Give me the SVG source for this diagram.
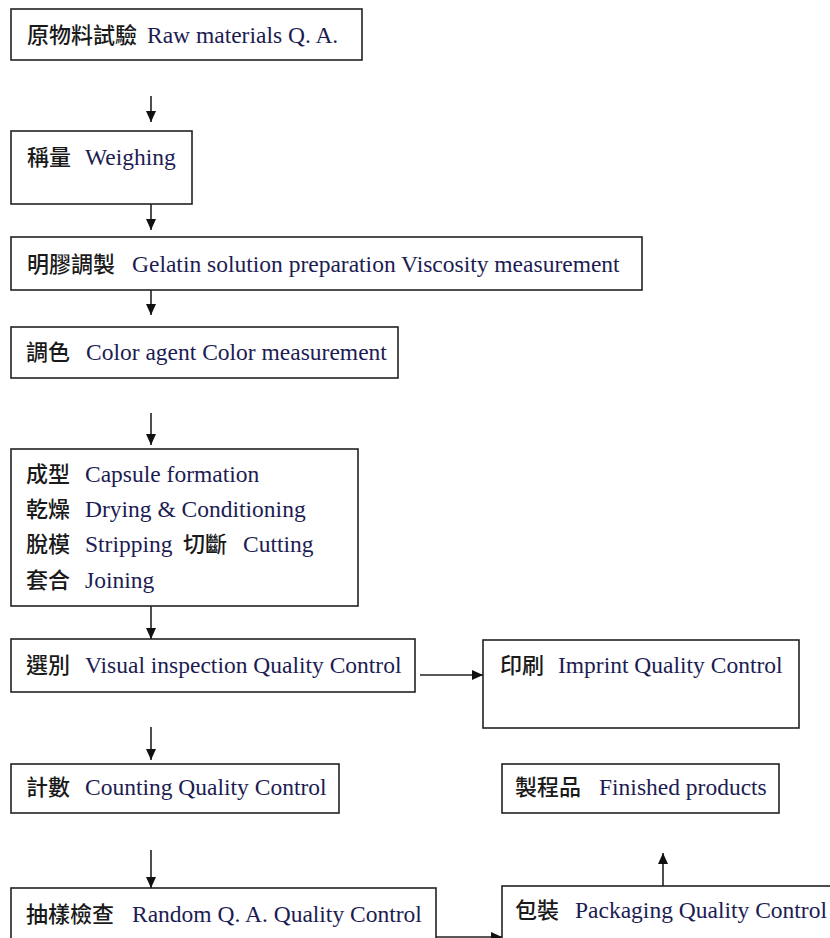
<svg xmlns="http://www.w3.org/2000/svg" width="830" height="938" viewBox="0 0 830 938">
<defs>
<marker id="ah" viewBox="0 0 10 10" refX="10" refY="5" markerWidth="11" markerHeight="10" markerUnits="userSpaceOnUse" orient="auto" preserveAspectRatio="none">
<path d="M0,0 L10,5 L0,10 z" fill="#111"/>
</marker>
<style>
.box{fill:#fff;stroke:#222;stroke-width:1.6}
.lbl{font-size:23px}
.zh{font-family:"Noto Sans CJK TC","Noto Sans CJK SC",sans-serif;fill:#1a1a1a;font-weight:500;font-size:22px}
.en{font-family:"Liberation Serif","Times New Roman",serif;fill:#1c1c52;font-size:23.5px}
.con{fill:none;stroke:#222;stroke-width:1.6;marker-end:url(#ah)}
</style>
</defs>
<rect width="830" height="938" fill="#fff"/>
<g id="n1">
<rect class="box" x="11" y="9" width="351" height="51"/>
<text class="lbl" y="43"><tspan class="zh" x="27">原物料試驗</tspan><tspan class="en" x="147">Raw materials Q. A.</tspan></text>
</g>
<g id="n2">
<rect class="box" x="11" y="131" width="181" height="73"/>
<text class="lbl" y="165"><tspan class="zh" x="27">稱量</tspan><tspan class="en" x="85">Weighing</tspan></text>
</g>
<g id="n3">
<rect class="box" x="11" y="237" width="631" height="53"/>
<text class="lbl" y="272"><tspan class="zh" x="27">明膠調製</tspan><tspan class="en" x="132">Gelatin solution preparation Viscosity measurement</tspan></text>
</g>
<g id="n4">
<rect class="box" x="11" y="327" width="387" height="51"/>
<text class="lbl" y="360"><tspan class="zh" x="26">調色</tspan><tspan class="en" x="86">Color agent Color measurement</tspan></text>
</g>
<g id="n5">
<rect class="box" x="11" y="449" width="347" height="157"/>
<text class="lbl" y="482"><tspan class="zh" x="26">成型</tspan><tspan class="en" x="85">Capsule formation</tspan></text>
<text class="lbl" y="517"><tspan class="zh" x="26">乾燥</tspan><tspan class="en" x="85">Drying &amp; Conditioning</tspan></text>
<text class="lbl" y="552"><tspan class="zh" x="26">脫模</tspan><tspan class="en" x="85">Stripping</tspan><tspan class="zh" x="183">切斷</tspan><tspan class="en" x="243">Cutting</tspan></text>
<text class="lbl" y="588"><tspan class="zh" x="26">套合</tspan><tspan class="en" x="85">Joining</tspan></text>
</g>
<g id="n6">
<rect class="box" x="11" y="639" width="404" height="53"/>
<text class="lbl" y="673"><tspan class="zh" x="26">選別</tspan><tspan class="en" x="85">Visual inspection Quality Control</tspan></text>
</g>
<g id="n7">
<rect class="box" x="483" y="640" width="316" height="88"/>
<text class="lbl" y="673"><tspan class="zh" x="500">印刷</tspan><tspan class="en" x="558">Imprint Quality Control</tspan></text>
</g>
<g id="n8">
<rect class="box" x="11" y="764" width="328" height="49"/>
<text class="lbl" y="795"><tspan class="zh" x="26">計數</tspan><tspan class="en" x="85">Counting Quality Control</tspan></text>
</g>
<g id="n9">
<rect class="box" x="502" y="764" width="277" height="49"/>
<text class="lbl" y="795"><tspan class="zh" x="515">製程品</tspan><tspan class="en" x="599">Finished products</tspan></text>
</g>
<g id="n10">
<rect class="box" x="11" y="888" width="425" height="80"/>
<text class="lbl" y="922"><tspan class="zh" x="26">抽樣檢查</tspan><tspan class="en" x="132">Random Q. A. Quality Control</tspan></text>
</g>
<g id="n11">
<rect class="box" x="502" y="886" width="340" height="80"/>
<text class="lbl" y="918"><tspan class="zh" x="515">包裝</tspan><tspan class="en" x="575">Packaging Quality Control</tspan></text>
</g>
<g id="connectors">
<line class="con" x1="151" y1="96" x2="151" y2="122"/>
<line class="con" x1="151" y1="204" x2="151" y2="230"/>
<line class="con" x1="151" y1="290" x2="151" y2="315"/>
<line class="con" x1="151" y1="413" x2="151" y2="445"/>
<line class="con" x1="151" y1="606" x2="151" y2="639"/>
<line class="con" x1="420" y1="675" x2="483" y2="675"/>
<line class="con" x1="151" y1="727" x2="151" y2="760"/>
<line class="con" x1="151" y1="850" x2="151" y2="888"/>
<line class="con" x1="663" y1="886" x2="663" y2="853"/>
<line class="con" x1="436" y1="937" x2="502" y2="937"/>
</g>
</svg>
